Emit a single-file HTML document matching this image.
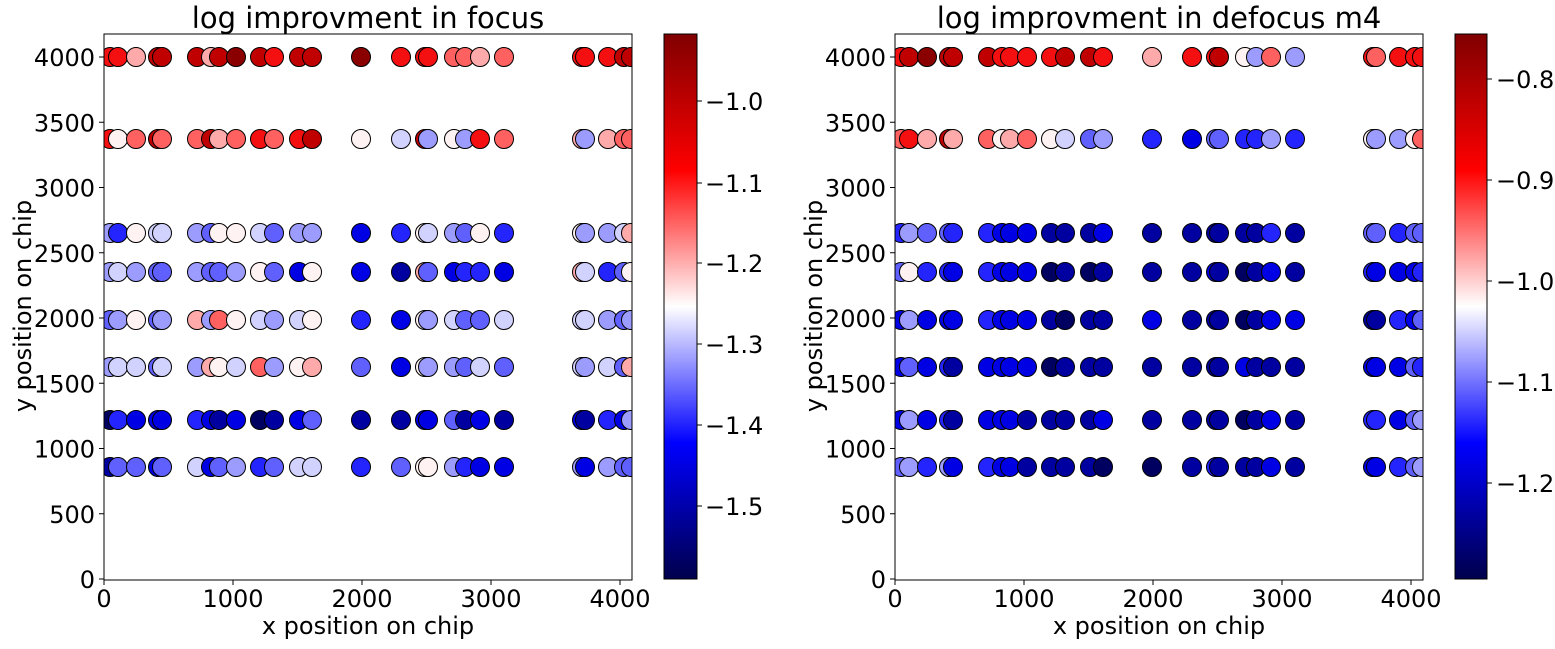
<!DOCTYPE html>
<html><head><meta charset="utf-8"><style>
body{margin:0;background:#fff;}
svg text{font-family:"DejaVu Sans","Liberation Sans",sans-serif;fill:#000;}
</style></head><body>
<svg id="s" width="1555" height="644" xmlns="http://www.w3.org/2000/svg">
<defs>
<linearGradient id="seis" x1="0" y1="1" x2="0" y2="0">
<stop offset="0" stop-color="#00004c"/>
<stop offset="0.25" stop-color="#0000ff"/>
<stop offset="0.5" stop-color="#ffffff"/>
<stop offset="0.75" stop-color="#ff0000"/>
<stop offset="1" stop-color="#800000"/>
</linearGradient>
<clipPath id="c1"><rect x="104" y="34" width="528" height="546"/></clipPath>
<clipPath id="c2"><rect x="895" y="34" width="528" height="546"/></clipPath>
</defs>
<g id="g1" clip-path="url(#c1)"></g>
<g id="g2" clip-path="url(#c2)"></g>
<rect x="104" y="34" width="528" height="546" fill="none" stroke="#000" stroke-width="1"/>
<rect x="895" y="34" width="528" height="546" fill="none" stroke="#000" stroke-width="1"/>
<rect x="664" y="34" width="33" height="545" fill="url(#seis)" stroke="#000" stroke-width="1"/>
<rect x="1455" y="34" width="32" height="545" fill="url(#seis)" stroke="#000" stroke-width="1"/>
<text x="368" y="28" font-size="29" text-anchor="middle">log improvment in focus</text>
<text x="1159" y="28" font-size="29" text-anchor="middle">log improvment in defocus m4</text>
<text x="368" y="634" font-size="24" text-anchor="middle">x position on chip</text>
<text x="1159" y="634" font-size="24" text-anchor="middle">x position on chip</text>
<text transform="translate(31,306) rotate(-90)" font-size="24" text-anchor="middle">y position on chip</text>
<text transform="translate(822,306) rotate(-90)" font-size="24" text-anchor="middle">y position on chip</text>
<g id="ticks"></g>
</svg>
<script>
var S="http://www.w3.org/2000/svg";
function el(p,n,a,t){var e=document.createElementNS(S,n);for(var k in a)e.setAttribute(k,a[k]);if(t!=null)e.textContent=t;p.appendChild(e);return e;}
var T=document.getElementById('ticks');
[104,895].forEach(function(x0){
 for(var i=0;i<=4;i++){var x=x0+129*i;el(T,'line',{x1:x,y1:580,x2:x,y2:585,stroke:'#000'});el(T,'text',{x:x,y:607,'font-size':24,'text-anchor':'middle'},String(i*1000));}
 for(var j=0;j<=8;j++){var y=579-65.25*j;el(T,'line',{x1:x0-5,y1:y,x2:x0,y2:y,stroke:'#000'});el(T,'text',{x:x0-9,y:y+9,'font-size':24,'text-anchor':'end'},String(j*500));}
});
var cb1=[["\u22121.0",101],["\u22121.1",183],["\u22121.2",263],["\u22121.3",344],["\u22121.4",425],["\u22121.5",506]];
cb1.forEach(function(c){el(T,'line',{x1:697,y1:c[1],x2:702,y2:c[1],stroke:'#000'});el(T,'text',{x:705,y:c[1]+9,'font-size':24},c[0]);});
var cb2=[["\u22120.8",79],["\u22120.9",180],["\u22121.0",281],["\u22121.1",382],["\u22121.2",483]];
cb2.forEach(function(c){el(T,'line',{x1:1487,y1:c[1],x2:1492,y2:c[1],stroke:'#000'});el(T,'text',{x:1496,y:c[1]+9,'font-size':24},c[0]);});
var P={D:'#8a0000',R:'#c00000',r:'#f41010',p:'#ff6060',q:'#ffaaaa',w:'#fff2f2',l:'#d2d2ff',m:'#9c9cff',M:'#6060ff',b:'#2424ff',B:'#0000e4',N:'#0000a0',K:'#000060'};
var xs=[110,118,136,158,162,197,211,219,236,260,274,299,312,361,401,425,428,454,465,480,504,582,585,608,624,631];
var ys=[57,139,233,272,320,367,420,467];
var L=["rrqRRRqRDRrRRDrrrppqprrrRR","rwpRppRqprprRwlRmwmrpqmqpp","mbwllmMwwlMmmBbwlmMwbwmmlq","mlmMMmMMmwMBwBNqMBbbBqlbMw","MmwMmqmpwlmlwbBwmlMMlllmMm","mllMlmqwlpmwqMBwmmMlMlmlMq","KbBBBbBNBKNBMNNBBMNBNBNbBm","NMMBMlBMmbMllbMwwmbBBmBmMM"];
var Rr=["rRDRRRrrrrRRrqrrRwmpmrprrr","prqRqpwqpwlMmbBMMbbmbwmmwp","bmMMbbBBBNNNBNNNNNNbNMMbMM","MwbbBbBBBKNKNNNBNKNBNbBBBb","BmBBBbBBBNKNNBNNNKNBBNNbBM","BMBbNBBBBKNNNNNNNBNNNBBBMb","BmBbNBBBNNNNBNNNNKNBNbbBMm","MmbmBbBBNNNNKKNbNNNBNBBbMm"];
function draw(g,dx,data){
 for(var r=0;r<8;r++)for(var i=0;i<26;i++){
  el(g,'circle',{cx:xs[i]+dx,cy:ys[r],r:9.5,fill:P[data[r][i]],stroke:'#000','stroke-width':1});
 }}
draw(document.getElementById('g1'),0,L);
draw(document.getElementById('g2'),791,Rr);
</script>
</body></html>
